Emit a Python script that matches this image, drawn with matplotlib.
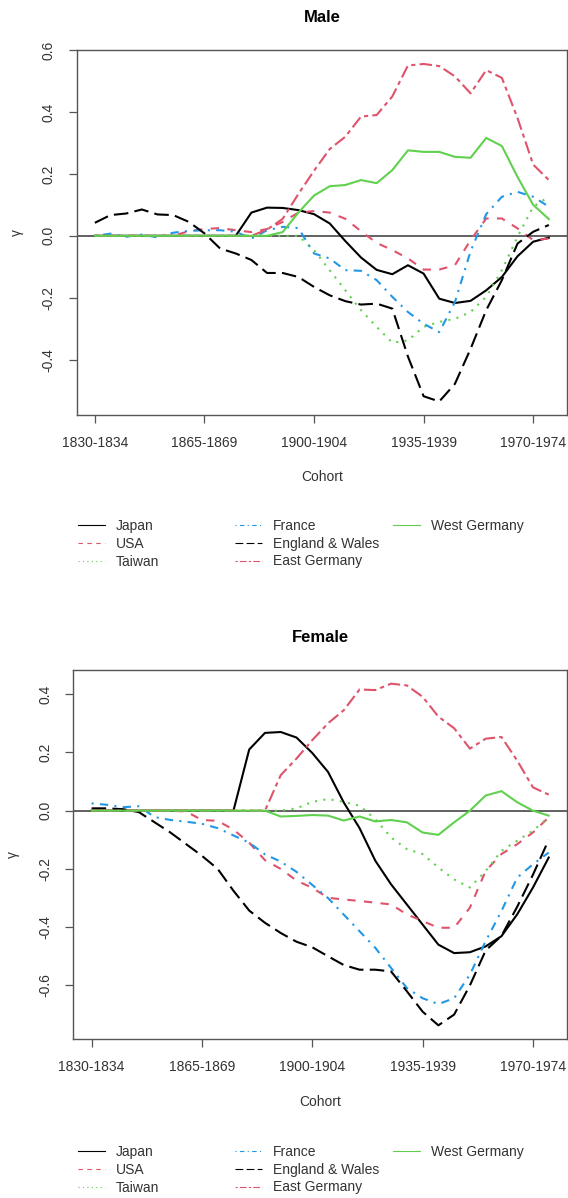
import matplotlib.pyplot as plt

plt.rcParams['font.family'] = ['Liberation Sans', 'DejaVu Sans']

# 5-year birth cohorts 1830-1834 ... 1975-1979
cohorts = [f"{y}-{y + 4}" for y in range(1830, 1980, 5)]
tick_idx = [0, 7, 14, 21, 28]

countries = ['Japan', 'USA', 'Taiwan', 'France', 'England & Wales',
             'East Germany', 'West Germany']

# ---- Male ----
japan_m = [0, 0, 0, 0, 0, 0, 0, 0, 0, 0, 0.075, 0.091, 0.09, 0.083, 0.07, 0.04,
           -0.017, -0.07, -0.11, -0.124, -0.095, -0.122, -0.203, -0.217, -0.21,
           -0.176, -0.133, -0.066, -0.019, -0.006]
usa_m = [0, 0, 0, 0, 0, 0, 0.015, 0.022, 0.025, 0.018, 0.012, 0.022, 0.045, 0.075,
         0.08, 0.075, 0.055, 0.015, -0.023, -0.046, -0.073, -0.109, -0.109, -0.095,
         -0.014, 0.056, 0.056, 0.024, -0.014, -0.009]
taiwan_m = [0, 0, 0, 0, 0, 0, 0, 0, 0, 0, 0, 0, 0, 0, -0.046, -0.111, -0.176, -0.24,
            -0.294, -0.345, -0.338, -0.294, -0.278, -0.268, -0.246, -0.197, -0.111,
            -0.003, 0.094, 0.126]
france_m = [0, 0.007, -0.003, 0.004, -0.005, 0.01, 0.016, 0.018, 0.018, 0.013, -0.009,
            0.018, 0.029, 0.025, -0.057, -0.073, -0.111, -0.113, -0.143, -0.197,
            -0.246, -0.284, -0.311, -0.214, -0.05, 0.07, 0.126, 0.142, 0.126, 0.094]
ew_m = [0.042, 0.067, 0.072, 0.085, 0.069, 0.067, 0.045, 0.008, -0.041, -0.057, -0.078,
        -0.12, -0.12, -0.133, -0.165, -0.192, -0.211, -0.222, -0.219, -0.235, -0.39,
        -0.518, -0.535, -0.478, -0.365, -0.24, -0.143, -0.025, 0.013, 0.035]
eastg_m = [0, 0, 0, 0, 0, 0, 0, 0, 0, 0, 0, 0.02, 0.055, 0.135, 0.21, 0.28, 0.32, 0.385,
           0.39, 0.45, 0.55, 0.555, 0.548, 0.515, 0.46, 0.535, 0.51, 0.38, 0.23, 0.18]
westg_m = [0, 0, 0, 0, 0, 0, 0, 0, 0, 0, 0, 0, 0.012, 0.075, 0.13, 0.16, 0.164, 0.18,
           0.17, 0.212, 0.276, 0.271, 0.271, 0.255, 0.252, 0.316, 0.29, 0.19, 0.1, 0.054]

# ---- Female ----
japan_f = [0, 0, 0, 0, 0, 0, 0, 0, 0, 0, 0.21, 0.267, 0.27, 0.251, 0.198, 0.133, 0.028,
           -0.06, -0.172, -0.253, -0.322, -0.391, -0.46, -0.489, -0.486, -0.466,
           -0.431, -0.356, -0.264, -0.161]
usa_f = [0, 0, 0, 0, 0, 0, -0.003, -0.032, -0.035, -0.065, -0.11, -0.17, -0.2, -0.24,
         -0.265, -0.299, -0.305, -0.31, -0.316, -0.322, -0.356, -0.379, -0.402, -0.402,
         -0.333, -0.207, -0.149, -0.115, -0.075, -0.023]
taiwan_f = [0, 0, 0, 0, 0, 0, 0, 0, 0, 0, 0, 0, 0, 0.008, 0.03, 0.04, 0.03, 0.017,
            -0.029, -0.092, -0.132, -0.149, -0.195, -0.236, -0.264, -0.207, -0.138,
            -0.103, -0.069, -0.023]
france_f = [0.025, 0.02, 0.012, 0.015, -0.022, -0.032, -0.038, -0.045, -0.06, -0.085,
            -0.11, -0.15, -0.175, -0.21, -0.255, -0.3, -0.357, -0.414, -0.471, -0.54,
            -0.609, -0.644, -0.664, -0.644, -0.563, -0.448, -0.345, -0.23, -0.184, -0.144]
ew_f = [0.008, 0.008, 0.005, -0.005, -0.04, -0.075, -0.115, -0.155, -0.2, -0.275,
        -0.343, -0.385, -0.42, -0.45, -0.469, -0.5, -0.53, -0.546, -0.546, -0.552,
        -0.62, -0.69, -0.737, -0.7, -0.6, -0.48, -0.43, -0.33, -0.22, -0.1]
eastg_f = [0, 0, 0, 0, 0, 0, 0, 0, 0, 0, 0, 0, 0.122, 0.179, 0.242, 0.3, 0.345, 0.416,
           0.414, 0.436, 0.43, 0.391, 0.323, 0.283, 0.213, 0.247, 0.253, 0.172, 0.08, 0.055]
westg_f = [0, 0, 0, 0, 0, 0, 0, 0, 0, 0, 0, 0, -0.02, -0.018, -0.015, -0.017, -0.034,
           -0.02, -0.037, -0.032, -0.04, -0.075, -0.083, -0.04, 0.0, 0.052, 0.067,
           0.029, 0.0, -0.017]

male = [japan_m, usa_m, taiwan_m, france_m, ew_m, eastg_m, westg_m]
female = [japan_f, usa_f, taiwan_f, france_f, ew_f, eastg_f, westg_f]

# R-like colours and line types
colors = ['black', '#DF536B', '#61D04F', '#2297E6', 'black', '#DF536B', '#61D04F']
dashes = [None, (4, 4), (1, 3), (1, 3, 4, 3), (7, 3), (2, 2, 6, 2), None]

TXT = '#333333'
AX = '#555555'

W, H = 568, 1198
fig = plt.figure(figsize=(W / 100, H / 100), dpi=100)


def panel(rect, series, title, yticks, legend_top):
    ax = fig.add_axes(rect)
    x = list(range(len(cohorts)))
    for vals, c, d in zip(series, colors, dashes):
        ln, = ax.plot(x, vals, color=c, lw=1.5)
        if d is not None:
            ln.set_dashes(d)
    ax.axhline(0, color=AX, lw=1.3, zorder=0)

    n = len(cohorts) - 1
    ax.set_xlim(-0.04 * n, n * 1.04)
    lo = min(min(s) for s in series)
    hi = max(max(s) for s in series)
    pad = 0.04 * (hi - lo)
    ax.set_ylim(lo - pad, hi + pad)

    ax.set_xticks(tick_idx)
    ax.set_xticklabels([cohorts[i] for i in tick_idx])
    ax.set_yticks(yticks)
    ax.set_yticklabels([f"{v:.1f}" for v in yticks], rotation=90, va='center')
    ax.tick_params(colors=AX, labelcolor=TXT, labelsize=10, length=6, width=0.9)
    ax.tick_params(axis='x', pad=9)
    ax.tick_params(axis='y', pad=9)
    for s in ax.spines.values():
        s.set_color(AX)
        s.set_linewidth(1.0)

    ax.set_title(title, fontsize=12, fontweight='bold', color='black', pad=20.5)
    ax.set_xlabel('Cohort', fontsize=10, color=TXT)
    ax.xaxis.set_label_coords(0.5, -0.152)
    ax.set_ylabel('γ', fontsize=10, color=TXT)
    ax.yaxis.set_label_coords(-0.108, 0.5)

    # legend: three columns like R's legend(ncol = 3)
    cols = [(0, 3, 78), (3, 6, 235), (6, 7, 393)]
    for a, b, xpx in cols:
        handles = []
        for k in range(a, b):
            h = plt.Line2D([], [], color=colors[k], lw=0.8)
            if dashes[k] is not None:
                h.set_dashes(dashes[k])
            handles.append(h)
        fig.legend(handles, countries[a:b], loc='upper left',
                   bbox_to_anchor=(xpx / W, 1 - legend_top / H),
                   frameon=False, fontsize=10, labelcolor=TXT,
                   handlelength=1.95, handletextpad=0.8, labelspacing=0.27,
                   borderpad=0, borderaxespad=0)
    return ax


panel([76.7 / W, 1 - 415 / H, (567 - 76.7) / W, 365 / H], male, 'Male',
      [-0.4, -0.2, 0.0, 0.2, 0.4, 0.6], 519)
panel([73.3 / W, 1 - 1039 / H, (567 - 73.3) / W, 369 / H], female, 'Female',
      [-0.6, -0.4, -0.2, 0.0, 0.2, 0.4], 1145)

fig.savefig('out.png', dpi=100)
